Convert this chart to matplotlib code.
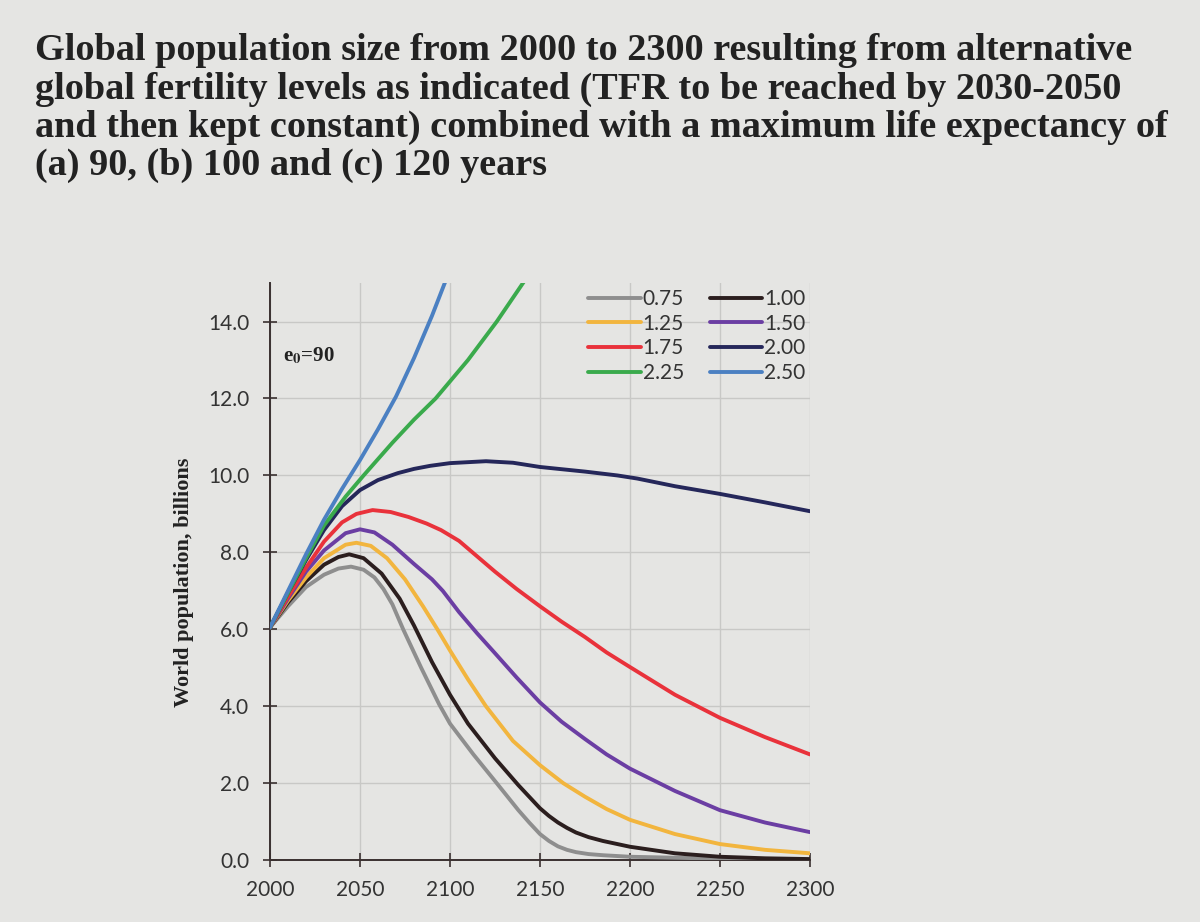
import matplotlib
matplotlib.use("Agg")
import matplotlib.pyplot as plt

# ----------------------------------------------------------------------------------------------------------------------
#  DATA  (billions)
# ----------------------------------------------------------------------------------------------------------------------

tfr_labels = ['0.75', '1.00', '1.25', '1.50', '1.75', '2.00', '2.25', '2.50']
line_colors = ['#8e8e8e', '#2b1e1e', '#f2b53e', '#6b3ea3', '#e9323b', '#25275a', '#3aaa4c', '#4b80c2']

years_075 = [2000, 2010, 2020, 2030, 2038, 2045, 2052, 2058, 2063, 2068, 2074, 2084, 2094, 2100, 2113, 2126, 2138,
             2144, 2150, 2155, 2160, 2165, 2170, 2177, 2185, 2200, 2250, 2300]
pop_075   = [6.05, 6.6, 7.1, 7.42, 7.58, 7.63, 7.55, 7.35, 7.05, 6.65, 6.0, 5.0, 4.05, 3.55, 2.75, 2.0, 1.3,
             0.98, 0.68, 0.5, 0.36, 0.27, 0.21, 0.16, 0.13, 0.09, 0.04, 0.01]

years_100 = [2000, 2010, 2020, 2030, 2038, 2044, 2052, 2062, 2072, 2080, 2090, 2100, 2110, 2125, 2138, 2145, 2150,
             2155, 2160, 2165, 2170, 2177, 2185, 2190, 2200, 2225, 2250, 2275, 2300]
pop_100   = [6.05, 6.7, 7.25, 7.68, 7.88, 7.95, 7.85, 7.45, 6.8, 6.1, 5.15, 4.3, 3.55, 2.65, 1.95, 1.6, 1.35,
             1.15, 0.98, 0.84, 0.72, 0.6, 0.5, 0.45, 0.35, 0.18, 0.09, 0.05, 0.03]

years_125 = [2000, 2010, 2020, 2030, 2042, 2048, 2056, 2065, 2075, 2085, 2093, 2100, 2110, 2120, 2135, 2150, 2163,
             2175, 2187, 2200, 2225, 2250, 2275, 2300]
pop_125   = [6.05, 6.75, 7.35, 7.85, 8.2, 8.25, 8.17, 7.85, 7.3, 6.6, 6.0, 5.45, 4.7, 4.0, 3.1, 2.47, 2.0,
             1.65, 1.33, 1.05, 0.68, 0.42, 0.27, 0.18]

years_150 = [2000, 2010, 2020, 2030, 2042, 2050, 2058, 2068, 2080, 2090, 2096, 2105, 2115, 2125, 2137, 2150, 2162,
             2175, 2187, 2200, 2225, 2250, 2275, 2300]
pop_150   = [6.05, 6.8, 7.5, 8.05, 8.5, 8.6, 8.52, 8.2, 7.7, 7.3, 7.0, 6.45, 5.9, 5.38, 4.75, 4.1, 3.6,
             3.15, 2.75, 2.38, 1.8, 1.3, 0.98, 0.73]

years_175 = [2000, 2010, 2020, 2030, 2040, 2048, 2057, 2067, 2077, 2087, 2095, 2105, 2115, 2125, 2137, 2150, 2162,
             2175, 2187, 2200, 2225, 2250, 2275, 2300]
pop_175   = [6.05, 6.85, 7.6, 8.28, 8.78, 9.0, 9.1, 9.05, 8.92, 8.75, 8.58, 8.3, 7.9, 7.5, 7.05, 6.6, 6.2,
             5.8, 5.4, 5.02, 4.3, 3.7, 3.2, 2.75]

years_200 = [2000, 2010, 2020, 2030, 2040, 2050, 2060, 2071, 2080, 2089, 2100, 2120, 2135, 2150, 2175, 2193, 2204,
             2225, 2250, 2275, 2300]
pop_200   = [6.05, 6.95, 7.8, 8.58, 9.2, 9.62, 9.88, 10.06, 10.17, 10.25, 10.32, 10.37, 10.33, 10.22, 10.1, 10.0, 9.92,
             9.72, 9.52, 9.3, 9.07]

years_225 = [2000, 2010, 2020, 2030, 2042, 2052, 2068, 2080, 2092, 2101, 2110, 2118, 2126, 2134, 2142]
pop_225   = [6.05, 6.95, 7.85, 8.7, 9.45, 10.0, 10.85, 11.45, 12.0, 12.5, 13.0, 13.5, 14.0, 14.55, 15.1]

years_250 = [2000, 2010, 2020, 2030, 2040, 2050, 2060, 2070, 2080, 2085, 2090, 2095, 2100]
pop_250   = [6.05, 7.0, 7.95, 8.85, 9.65, 10.4, 11.2, 12.05, 13.05, 13.6, 14.15, 14.75, 15.35]

series = [(years_075, pop_075), (years_100, pop_100), (years_125, pop_125), (years_150, pop_150),
          (years_175, pop_175), (years_200, pop_200), (years_225, pop_225), (years_250, pop_250)]

x_ticks = [2000, 2050, 2100, 2150, 2200, 2250, 2300]
y_ticks = [0, 2, 4, 6, 8, 10, 12, 14]

title_text = ("Global population size from 2000 to 2300 resulting from alternative\n"
              "global fertility levels as indicated (TFR to be reached by 2030-2050\n"
              "and then kept constant) combined with a maximum life expectancy of\n"
              "(a) 90, (b) 100 and (c) 120 years")

# ----------------------------------------------------------------------------------------------------------------------
#  PLOT
# ----------------------------------------------------------------------------------------------------------------------

plt.rcParams['mathtext.fontset'] = 'stix'

paper = '#e5e5e3'
ink   = '#3a3030'

fig = plt.figure(figsize=(12, 9.22), dpi=100, facecolor=paper)
ax  = fig.add_axes([0.225, 0.067, 0.45, 0.626], facecolor=paper)

for i in range(len(series)):
    yrs, pop = series[i]
    ax.plot(yrs, pop, color=line_colors[i], linewidth=2.8, label=tfr_labels[i],
            solid_capstyle='round', solid_joinstyle='round', zorder=3)

ax.set_xlim(2000, 2300)
ax.set_ylim(0, 15)
ax.set_xticks(x_ticks)
ax.set_yticks(y_ticks)
ax.set_yticklabels(['%.1f' % v for v in y_ticks])
ax.grid(True, color='#c8c8c6', linewidth=1.0, zorder=0)

for side in ['top', 'right']:
    ax.spines[side].set_visible(False)
for side in ['left', 'bottom']:
    ax.spines[side].set_color(ink)
    ax.spines[side].set_linewidth(1.4)

ax.tick_params(axis='both', direction='inout', length=10, width=1.2, color=ink,
               labelsize=15, labelcolor='#333333')
ax.tick_params(axis='x', pad=9)
ax.tick_params(axis='y', pad=10)
for lab in ax.get_xticklabels() + ax.get_yticklabels():
    lab.set_fontfamily('Lato')

ax.text(2007, 13.1, r'e$_\mathbf{0}$=90', fontsize=15, fontweight='bold', family='Liberation Serif',
        color='#222222', va='center')

# legend: row-wise order, matplotlib fills columns first
handles, labels = ax.get_legend_handles_labels()
order = [0, 2, 4, 6, 1, 3, 5, 7]
leg = ax.legend([handles[k] for k in order], [labels[k] for k in order],
                ncol=2, loc='upper left', bbox_to_anchor=(0.555, 1.022), frameon=False,
                handlelength=2.5, handletextpad=0.1, columnspacing=1.25, labelspacing=0.22,
                prop={'family': 'Lato', 'size': 15})
for t in leg.get_texts():
    t.set_color('#333333')

fig.text(0.029, 0.964, title_text, ha='left', va='top', fontsize=27.5, fontweight='bold',
         family='Liberation Serif', color='#222222', linespacing=1.12)

fig.text(0.153, 0.368, 'World population, billions', rotation=90, ha='center', va='center',
         fontsize=16, fontweight='bold', family='Liberation Serif', color='#222222')

fig.savefig('out.png', dpi=100, facecolor=paper)
